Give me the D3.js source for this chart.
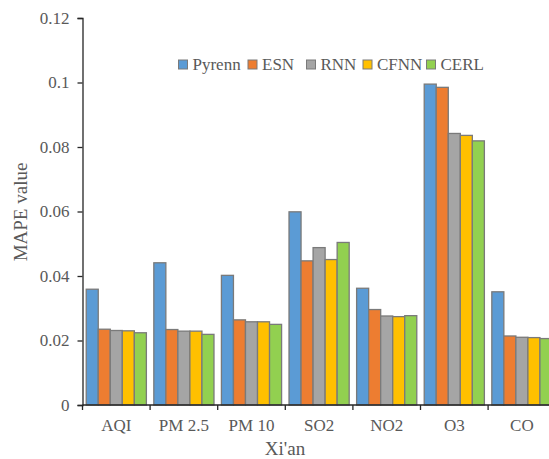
<!DOCTYPE html>
<html>
<head>
<meta charset="utf-8">
<script src="https://cdn.jsdelivr.net/npm/d3@7"></script>
<style>
  html, body { margin: 0; padding: 0; background: #fff; }
  svg text { font-family: "Liberation Serif", "Times New Roman", serif; fill: #595959; }
</style>
</head>
<body>
<svg id="chart" width="549" height="459"></svg>
<script>
// Pollutant categories (Xi'an)
const categories = ["AQI", "PM 2.5", "PM 10", "SO2", "NO2", "O3", "CO"];
const seriesNames = ["Pyrenn", "ESN", "RNN", "CFNN", "CERL"];
const seriesColors = ["#5B9BD5", "#ED7D31", "#A5A5A5", "#FFC000", "#92D050"];

// MAPE values per model, one entry per category
const pyrenn = [0.0359, 0.0441, 0.0402, 0.0599, 0.0362, 0.0995, 0.0351];
const esn    = [0.0235, 0.0234, 0.0264, 0.0447, 0.0296, 0.0985, 0.0214];
const rnn    = [0.0231, 0.0229, 0.0258, 0.0488, 0.0276, 0.0842, 0.0210];
const cfnn   = [0.0230, 0.0229, 0.0258, 0.0451, 0.0274, 0.0836, 0.0209];
const cerl   = [0.0224, 0.0219, 0.0250, 0.0504, 0.0277, 0.0819, 0.0206];

const yTicks = [0, 0.02, 0.04, 0.06, 0.08, 0.1, 0.12];
const yTickLabels = ["0", "0.02", "0.04", "0.06", "0.08", "0.1", "0.12"];

const seriesValues = [pyrenn, esn, rnn, cfnn, cerl];

const svg = d3.select("#chart");
const plotLeft = 82.5, plotTop = 18, plotBottom = 405, catW = 67.6;
const plotRight = plotLeft + catW * categories.length;

const x = d3.scaleBand().domain(categories).range([plotLeft, plotRight]).paddingInner(0.11).paddingOuter(0.055);
const xs = d3.scaleBand().domain(seriesNames).range([0, x.bandwidth()]);
const y = d3.scaleLinear().domain([0, 0.12]).range([plotBottom, plotTop]);

// bars
const rows = categories.map((c, i) => ({ cat: c, vals: seriesNames.map((s, j) => ({ s, j, v: seriesValues[j][i] })) }));
const groups = svg.append("g").selectAll("g").data(rows).join("g")
  .attr("transform", d => `translate(${x(d.cat)},0)`);
groups.selectAll("rect").data(d => d.vals).join("rect")
  .attr("x", d => xs(d.s))
  .attr("y", d => y(d.v))
  .attr("width", xs.bandwidth())
  .attr("height", d => plotBottom - y(d.v))
  .attr("fill", d => seriesColors[d.j])
  .attr("stroke", "#7a7a7a")
  .attr("stroke-width", 1.3);

// y axis
const yAxis = d3.axisLeft(y).tickValues(yTicks).tickFormat((d, i) => yTickLabels[i]).tickSize(5).tickPadding(8);
const gy = svg.append("g").attr("transform", `translate(${plotLeft},0)`).call(yAxis);
gy.select(".domain").attr("stroke", "#262626").attr("stroke-width", 1.3);
gy.selectAll(".tick line").attr("stroke", "#262626").attr("stroke-width", 1.3);
gy.selectAll(".tick text").style("font-size", "17px").style("font-family", "Liberation Serif, serif").attr("fill", "#595959");

// x axis: ticks at category boundaries
const gx = svg.append("g").attr("transform", `translate(0,${plotBottom})`);
gx.append("line").attr("x1", plotLeft).attr("x2", plotRight).attr("stroke", "#262626").attr("stroke-width", 1.3);
const bounds = d3.range(categories.length + 1).map(i => plotLeft + i * x.step());
gx.selectAll("line.tk").data(bounds).join("line").attr("class", "tk")
  .attr("x1", d => d).attr("x2", d => d).attr("y1", 0).attr("y2", 5)
  .attr("stroke", "#262626").attr("stroke-width", 1.3);
gx.selectAll("text").data(categories).join("text")
  .attr("x", d => x(d) + x.bandwidth() / 2)
  .attr("y", 26)
  .attr("text-anchor", "middle")
  .style("font-size", "17px")
  .text(d => d);

// axis titles
svg.append("text").attr("x", 285).attr("y", 455).attr("text-anchor", "middle")
  .style("font-size", "19px").text("Xi'an");
svg.append("text").attr("transform", "translate(27,212) rotate(-90)").attr("text-anchor", "middle")
  .style("font-size", "19px").text("MAPE value");

// legend
const legendX = [178.5, 248, 306.5, 363, 426.5];
const lg = svg.append("g").selectAll("g").data(seriesNames).join("g")
  .attr("transform", (d, i) => `translate(${legendX[i]},60)`);
lg.append("rect").attr("width", 9).attr("height", 9)
  .attr("fill", (d, i) => seriesColors[i]).attr("stroke", "#7a7a7a").attr("stroke-width", 1);
lg.append("text").attr("x", 14).attr("y", 10).style("font-size", "17px").text(d => d);
</script>
</body>
</html>
